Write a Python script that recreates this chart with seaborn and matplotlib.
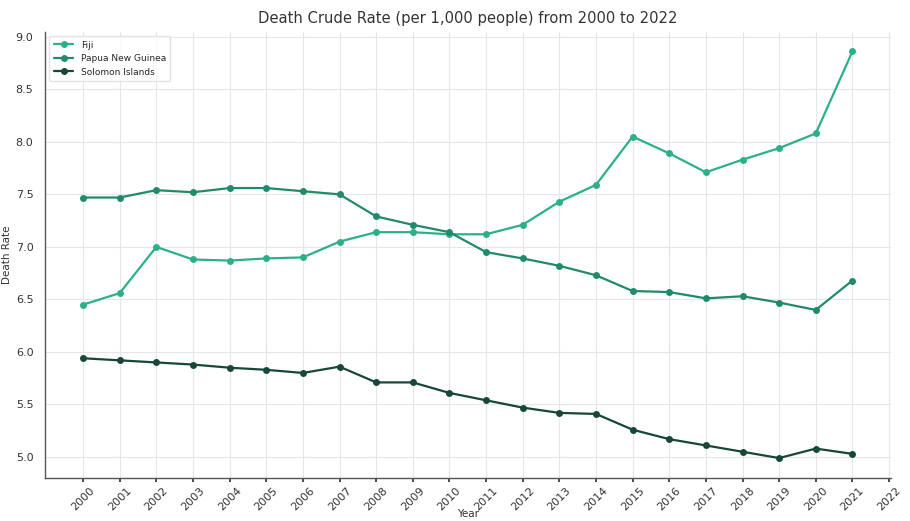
import matplotlib
matplotlib.use("Agg")
import matplotlib.pyplot as plt
import seaborn as sns
import pandas as pd

years = list(range(2000, 2022))
fiji = [6.45, 6.56, 7.00, 6.88, 6.87, 6.89, 6.90, 7.05, 7.14, 7.14, 7.12,
        7.12, 7.21, 7.43, 7.59, 8.05, 7.89, 7.71, 7.83, 7.94, 8.08, 8.86]
png = [7.47, 7.47, 7.54, 7.52, 7.56, 7.56, 7.53, 7.50, 7.29, 7.21, 7.14,
       6.95, 6.89, 6.82, 6.73, 6.58, 6.57, 6.51, 6.53, 6.47, 6.40, 6.68]
solomon = [5.94, 5.92, 5.90, 5.88, 5.85, 5.83, 5.80, 5.86, 5.71, 5.71, 5.61,
           5.54, 5.47, 5.42, 5.41, 5.26, 5.17, 5.11, 5.05, 4.99, 5.08, 5.03]
countries = ["Fiji", "Papua New Guinea", "Solomon Islands"]
colors = ["#2cb08a", "#218a6b", "#17463a"]
xticks = list(range(2000, 2023))

df = pd.DataFrame({"Year": years * 3,
                   "Rate": fiji + png + solomon,
                   "Country": [c for c in countries for _ in years]})

sns.set_theme(style="whitegrid")
plt.rcParams["font.family"] = ["DejaVu Sans"]

fig = plt.figure(figsize=(9.1, 5.21), dpi=100)
ax = fig.add_axes([0.049, 0.0825, 0.93, 0.857])

sns.lineplot(data=df, x="Year", y="Rate", hue="Country", palette=colors,
             marker="o", markersize=5, markeredgewidth=0, linewidth=1.6,
             ax=ax)

ax.set_xticks(xticks)
ax.set_xticklabels([str(t) for t in xticks], rotation=45, fontsize=8, color="#333333")
ax.tick_params(axis="y", labelsize=8, colors="#333333", pad=2)
ax.tick_params(axis="x", length=3, colors="#333333", bottom=True, pad=2)
ax.set_yticks([5.0, 5.5, 6.0, 6.5, 7.0, 7.5, 8.0, 8.5, 9.0])
ax.set_ylim(4.8, 9.05)
ax.set_xlim(1998.95, 2022.05)
ax.grid(True, color="#e6e6e6", linewidth=0.8)
for s in ["top", "right"]:
    ax.spines[s].set_visible(False)
for s in ["left", "bottom"]:
    ax.spines[s].set_color("#555555")
    ax.spines[s].set_linewidth(1.0)

ax.set_title("Death Crude Rate (per 1,000 people) from 2000 to 2022",
             fontsize=10.6, color="#333333", pad=6)
ax.set_xlabel("Year", fontsize=7.5, color="#333333", labelpad=-2)
ax.set_ylabel("Death Rate", fontsize=7.5, color="#333333", labelpad=3)

leg = ax.legend(loc="upper left", fontsize=6.5, frameon=True, borderpad=0.5,
                handlelength=2.2, labelspacing=0.5)
leg.get_frame().set_edgecolor("#dddddd")

fig.savefig("out.png", dpi=100)
